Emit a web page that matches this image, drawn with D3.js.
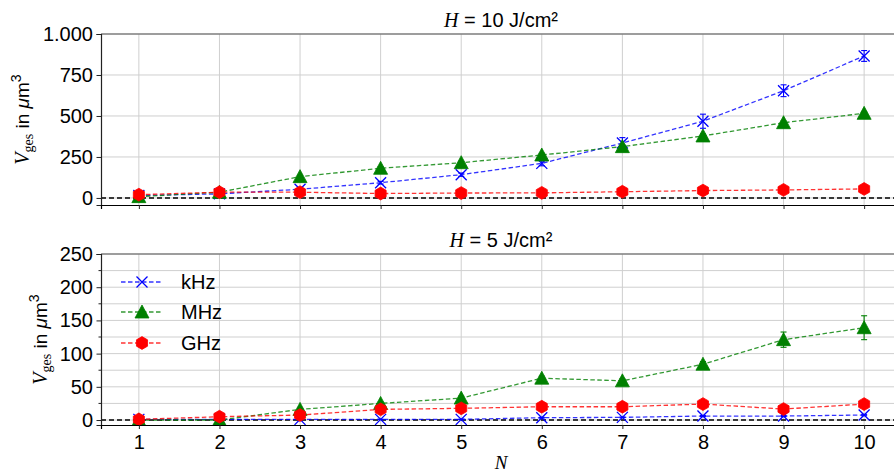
<!DOCTYPE html>
<html><head><meta charset="utf-8">
<script src="https://cdn.jsdelivr.net/npm/d3@7"></script>
<style>
body{margin:0;background:#fff}
svg text{font-family:"Liberation Sans",Arial,Helvetica,sans-serif;fill:#000}
</style>
</head><body>
<svg id="chart" width="894" height="474"></svg>
<script>
// ---------------- data ----------------
const pulses = [1,2,3,4,5,6,7,8,9,10];
const seriesNames = ["kHz","MHz","GHz"];
// H = 10 J/cm²
const top_kHz     = [15, 25, 53, 93, 142, 211, 335, 468, 654, 866];
const top_kHz_err = [3, 3, 5, 8, 10, 15, 33, 43, 36, 33];
const top_MHz     = [8, 35, 130, 181, 215, 262, 313, 378, 459, 516];
const top_MHz_err = [2, 3, 8, 8, 8, 10, 10, 12, 10, 10];
const top_GHz     = [20, 35, 35, 27, 30, 31, 38, 45, 49, 55];
const top_GHz_err = [2, 2, 3, 3, 3, 3, 3, 3, 3, 3];
// H = 5 J/cm²
const bot_kHz     = [1, 1, 1, 1, 1, 3.5, 4, 6, 6, 7.5];
const bot_kHz_err = [0.3, 0.3, 0.3, 0.3, 0.3, 0.5, 0.5, 0.8, 0.8, 1];
const bot_MHz     = [0, 0, 16, 25, 33, 63, 59, 84, 121, 139];
const bot_MHz_err = [0.5, 0.5, 2, 2, 3, 3, 3, 4, 11.5, 18];
const bot_GHz     = [1, 5, 7.5, 16, 17.6, 20, 20, 24, 16.5, 24];
const bot_GHz_err = [0.3, 0.5, 1, 1.5, 1.5, 1.5, 1.5, 2, 2, 2];
const yTicksTop = [0, 250, 500, 750, 1000];
const yTicksBot = [0, 50, 100, 150, 200, 250];
const yMinorBot = [25, 75, 125, 175, 225];
const titles = ["10", "5"];

// ---------------- styles ----------------
const colors = {kHz: "#0000ff", MHz: "#008000", GHz: "#ff0000"};
const svg = d3.select("#chart");
const X0 = 101, X1 = 902;
const x = d3.scaleLinear().domain([0.53, 10.47]).range([X0, X1]);
const de = d3.formatLocale({decimal: ",", thousands: ".", grouping: [3], currency: ["", "€"]});
const fmt = de.format(",d");

const panels = [
  {y: d3.scaleLinear().domain([-43, 1000]).range([205, 34]), ticks: yTicksTop, minor: [],
   data: {kHz: [top_kHz, top_kHz_err], MHz: [top_MHz, top_MHz_err], GHz: [top_GHz, top_GHz_err]},
   title: titles[0], labelX: 29, showX: false, legend: false},
  {y: d3.scaleLinear().domain([-7.5, 250]).range([425, 254]), ticks: yTicksBot, minor: yMinorBot,
   data: {kHz: [bot_kHz, bot_kHz_err], MHz: [bot_MHz, bot_MHz_err], GHz: [bot_GHz, bot_GHz_err]},
   title: titles[1], labelX: 47, showX: true, legend: true}
];

function markerPath(name) {
  if (name === "kHz") {
    const s = 5.5;
    return `M${-s},${-s}L${s},${s}M${-s},${s}L${s},${-s}`;
  }
  if (name === "MHz") {
    return "M0,-7L7,6L-7,6Z";
  }
  const r = 6.4, pts = [];
  for (let i = 0; i < 6; i++) {
    const a = Math.PI/2 + i*Math.PI/3;
    pts.push([r*Math.cos(a), -r*Math.sin(a)]);
  }
  return "M" + pts.map(p => p.join(",")).join("L") + "Z";
}
function drawMarker(g, name, cx, cy) {
  const p = g.append("path").attr("d", markerPath(name)).attr("transform", `translate(${cx},${cy})`);
  if (name === "kHz") p.attr("fill", "none").attr("stroke", colors[name]).attr("stroke-width", 1.3);
  else p.attr("fill", colors[name]).attr("stroke", colors[name]).attr("stroke-width", 0.8);
}

panels.forEach(P => {
  const y = P.y;
  const [yb, yt] = y.range();
  const g = svg.append("g");
  const clip = "clip" + yt;
  svg.append("clipPath").attr("id", clip).append("rect")
    .attr("x", X0).attr("y", yt).attr("width", X1 - X0).attr("height", yb - yt);

  // grid
  const grid = g.append("g").attr("stroke", "#cfcfcf").attr("stroke-width", 1);
  pulses.forEach(n => grid.append("line").attr("x1", x(n)).attr("x2", x(n)).attr("y1", yt).attr("y2", yb));
  P.ticks.concat(P.minor).forEach(v => grid.append("line").attr("x1", X0).attr("x2", X1).attr("y1", y(v)).attr("y2", y(v)));

  // zero line
  g.append("line").attr("x1", X0).attr("x2", X1).attr("y1", y(0)).attr("y2", y(0))
    .attr("stroke", "#000").attr("stroke-width", 1.5).attr("stroke-dasharray", "5,3");

  // series
  const plot = g.append("g").attr("clip-path", `url(#${clip})`);
  seriesNames.forEach(name => {
    const [vals, errs] = P.data[name];
    const pts = pulses.map((n, i) => [x(n), y(vals[i])]);
    plot.append("path").attr("d", d3.line()(pts)).attr("fill", "none")
      .attr("stroke", colors[name]).attr("stroke-width", 1.3).attr("stroke-dasharray", "4.5,2.5")
      .attr("stroke-opacity", 0.8);
    pulses.forEach((n, i) => {
      const cx = x(n), y1 = y(vals[i] - errs[i]), y2 = y(vals[i] + errs[i]);
      const eb = plot.append("g").attr("stroke", colors[name]).attr("stroke-width", 1.1);
      eb.append("line").attr("x1", cx).attr("x2", cx).attr("y1", y1).attr("y2", y2);
      eb.append("line").attr("x1", cx - 3).attr("x2", cx + 3).attr("y1", y1).attr("y2", y1);
      eb.append("line").attr("x1", cx - 3).attr("x2", cx + 3).attr("y1", y2).attr("y2", y2);
    });
    pulses.forEach((n, i) => drawMarker(plot, name, x(n), y(vals[i])));
  });

  // spines
  g.append("line").attr("x1", X0).attr("x2", X1).attr("y1", yt).attr("y2", yt).attr("stroke", "#555").attr("stroke-width", 1.2);

  // axes
  const ya = d3.axisLeft(y).tickValues(P.ticks).tickFormat(fmt).tickSize(4.5).tickPadding(3.5);
  const yg = g.append("g").attr("transform", `translate(${X0},0)`).call(ya);
  yg.select(".domain").attr("stroke", "#222").attr("stroke-width", 1.2);
  yg.selectAll(".tick line").attr("stroke", "#222");
  yg.selectAll("text").style("font-size", "20px");
  if (P.minor.length) {
    P.minor.forEach(v => g.append("line").attr("x1", X0 - 2.5).attr("x2", X0).attr("y1", y(v)).attr("y2", y(v)).attr("stroke", "#222"));
  }
  const xa = d3.axisBottom(x).tickValues(pulses).tickSize(4).tickPadding(6)
    .tickFormat(P.showX ? d3.format("d") : () => "");
  const xg = g.append("g").attr("transform", `translate(0,${yb})`).call(xa);
  xg.select(".domain").attr("stroke", "#000").attr("stroke-width", 1.2);
  xg.selectAll(".tick line").attr("stroke", "#222");
  xg.selectAll("text").style("font-size", "20px");

  // title
  const t = g.append("text").attr("x", 501).attr("y", yt - 7).attr("text-anchor", "middle").style("font-size", "20px");
  t.append("tspan").style("font-family", "'Liberation Serif','DejaVu Serif',serif").style("font-style", "italic").text("H");
  t.append("tspan").text(` = ${P.title} J/cm²`);

  // y label
  const cy = (yt + yb) / 2;
  const yl = g.append("text").attr("transform", `translate(${P.labelX},${cy}) rotate(-90)`)
    .attr("text-anchor", "middle").style("font-size", "19px");
  yl.append("tspan").style("font-family", "'Liberation Serif',serif").style("font-style", "italic").style("font-size", "20px").text("V");
  yl.append("tspan").style("font-family", "'Liberation Serif',serif").style("font-size", "14px").attr("dy", 4).text("ges");
  yl.append("tspan").attr("dy", -4).text(" in ");
  yl.append("tspan").style("font-style", "italic").text("μ");
  yl.append("tspan").text("m");
  yl.append("tspan").style("font-size", "14px").attr("dy", -8).text("3");

  // legend
  if (P.legend) {
    const ly = [282, 312, 343];
    seriesNames.forEach((name, i) => {
      const lg = g.append("g");
      lg.append("line").attr("x1", 121).attr("x2", 163).attr("y1", ly[i]).attr("y2", ly[i])
        .attr("stroke", colors[name]).attr("stroke-width", 1.3).attr("stroke-dasharray", "4.5,2.5").attr("stroke-opacity", 0.8);
      drawMarker(lg, name, 142, ly[i]);
      lg.append("text").attr("x", 181).attr("y", ly[i] + 7).style("font-size", "20px").text(name);
    });
  }
});

// x label
svg.append("text").attr("x", 501).attr("y", 469).attr("text-anchor", "middle")
  .style("font-family", "'Liberation Serif',serif").style("font-style", "italic").style("font-size", "19px").text("N");
</script>
</body></html>
